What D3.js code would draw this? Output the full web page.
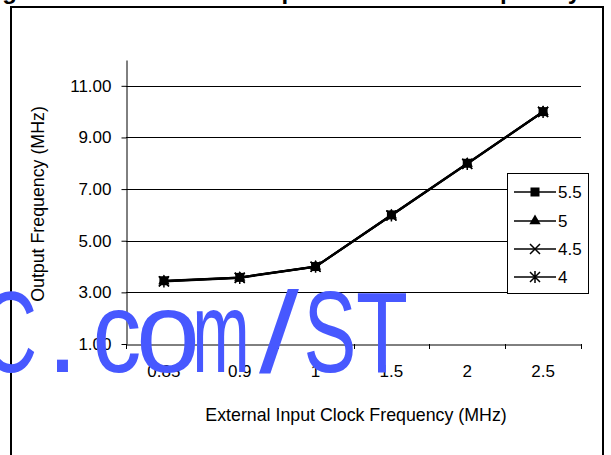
<!DOCTYPE html>
<html>
<head>
<meta charset="utf-8">
<script src="https://cdn.jsdelivr.net/npm/d3@7"></script>
<style>
html,body{margin:0;padding:0;background:#fff;}
svg{display:block;font-family:"Liberation Sans",Arial,sans-serif;}
</style>
</head>
<body>
<svg id="chart" width="611" height="455"></svg>
<script>
const categories = ["0.85", "0.9", "1", "1.5", "2", "2.5"];
const seriesNames = ["5.5", "5", "4.5", "4"];
const values55 = [3.45, 3.58, 4.0, 6.0, 8.0, 10.0];
const values5  = [3.44, 3.58, 4.0, 5.99, 7.99, 10.0];
const values45 = [3.43, 3.57, 3.99, 5.98, 7.98, 9.99];
const values4  = [3.42, 3.56, 3.99, 5.98, 7.97, 9.99];
const yTicks = [1, 3, 5, 7, 9, 11];
const titleText = "Figure 11. Oscillator Output vs. Clock Frequency";
const xTitle = "External Input Clock Frequency (MHz)";
const yTitle = "Output Frequency (MHz)";
const watermark = ["C", ".", "c", "o", "m", "/", "S", "T"];
const watermarkX = [9, 62.5, 117, 168, 221, 279, 330, 382];
const watermarkScale = [0.68, 1, 0.85, 1, 0.6, 1.25, 0.69, 0.74];

const series = [
  {name: seriesNames[0], values: values55, marker: "square"},
  {name: seriesNames[1], values: values5, marker: "triangle"},
  {name: seriesNames[2], values: values45, marker: "x"},
  {name: seriesNames[3], values: values4, marker: "star"}
];

const svg = d3.select("#chart");
const plot = {left: 126, right: 581, top: 60, bottom: 344};

const x = d3.scaleBand().domain(categories).range([plot.left, plot.right]);
const y = d3.scaleLinear().domain([1, 12]).range([plot.bottom, plot.top]);

// cut-off title
svg.append("text")
  .attr("x", -21).attr("y", -1)
  .attr("font-size", 24).attr("font-weight", "bold")
  .attr("textLength", 602).attr("lengthAdjust", "spacing")
  .text(titleText);

// outer frame
svg.append("rect")
  .attr("x", 11).attr("y", 7).attr("width", 592).attr("height", 460)
  .attr("fill", "none").attr("stroke", "#000").attr("stroke-width", 2);

// gridlines
svg.append("g").selectAll("line").data(yTicks.filter(d => d > 1)).join("line")
  .attr("x1", plot.left).attr("x2", plot.right)
  .attr("y1", d => Math.round(y(d)) + 0.5).attr("y2", d => Math.round(y(d)) + 0.5)
  .attr("stroke", "#000").attr("stroke-width", 1);

// y axis
const yAxis = svg.append("g")
  .attr("transform", `translate(${plot.left + 0.5},0)`)
  .call(d3.axisLeft(y).tickValues(yTicks).tickFormat(d3.format(".2f")).tickSize(5).tickPadding(10).tickSizeOuter(0));
yAxis.select(".domain").attr("stroke", "#000");
yAxis.selectAll("text").attr("font-size", 17).attr("fill", "#000").attr("font-family", "Liberation Sans, Arial, sans-serif");
yAxis.selectAll(".tick line").attr("stroke", "#000");

// x axis
const xAxis = svg.append("g")
  .attr("transform", `translate(0,${plot.bottom + 0.5})`)
  .call(d3.axisBottom(x).tickSize(0).tickPadding(20));
xAxis.select(".domain").attr("stroke", "#000");
xAxis.selectAll("text").attr("font-size", 17).attr("fill", "#000").attr("font-family", "Liberation Sans, Arial, sans-serif");
// category boundary ticks
const bounds = categories.map(c => x(c)).concat([x(categories[categories.length - 1]) + x.bandwidth()]);
svg.append("g").selectAll("line").data(bounds).join("line")
  .attr("x1", d => Math.round(d) + 0.5).attr("x2", d => Math.round(d) + 0.5)
  .attr("y1", plot.bottom).attr("y2", plot.bottom + 5)
  .attr("stroke", "#000");

// axis titles
svg.append("text")
  .attr("x", 356).attr("y", 421)
  .attr("text-anchor", "middle").attr("font-size", 17.8)
  .text(xTitle);
svg.append("text")
  .attr("transform", "translate(44,204) rotate(-90)")
  .attr("text-anchor", "middle").attr("font-size", 17.8)
  .text(yTitle);

function drawMarker(g, type) {
  if (type === "square") {
    g.append("rect").attr("x", -4.5).attr("y", -4.5).attr("width", 9).attr("height", 9).attr("fill", "#000");
  } else if (type === "triangle") {
    g.append("path").attr("d", d3.symbol(d3.symbolTriangle, 55)()).attr("fill", "#000");
  } else if (type === "x") {
    g.append("path").attr("d", "M-5,-5L5,5M-5,5L5,-5").attr("stroke", "#000").attr("stroke-width", 1.5).attr("fill", "none");
  } else if (type === "star") {
    g.append("path").attr("d", "M-5,-5L5,5M-5,5L5,-5M0,-6L0,6").attr("stroke", "#000").attr("stroke-width", 1.5).attr("fill", "none");
  }
}

const line = d3.line().x((d, i) => x(categories[i]) + x.bandwidth() / 2).y(d => y(d));
series.forEach(s => {
  svg.append("path").datum(s.values)
    .attr("d", line).attr("fill", "none").attr("stroke", "#000").attr("stroke-width", 2);
});
series.forEach(s => {
  s.values.forEach((v, i) => {
    const g = svg.append("g").attr("transform", `translate(${x(categories[i]) + x.bandwidth() / 2},${y(v)})`);
    drawMarker(g, s.marker);
  });
});

// legend
const legend = svg.append("g");
legend.append("rect")
  .attr("x", 507.5).attr("y", 173.5).attr("width", 81).attr("height", 120)
  .attr("fill", "#fff").attr("stroke", "#000").attr("stroke-width", 1);
const legendY = [192, 221, 249, 277];
series.forEach((s, i) => {
  const ly = legendY[i];
  legend.append("line").attr("x1", 514).attr("x2", 556).attr("y1", ly).attr("y2", ly)
    .attr("stroke", "#000").attr("stroke-width", 1.5);
  const g = legend.append("g").attr("transform", `translate(535,${ly})`);
  drawMarker(g, s.marker);
  legend.append("text").attr("x", 558).attr("y", ly + 6).attr("font-size", 17).text(s.name);
});

// watermark
const wm = svg.append("g").attr("fill", "#4758ff");
watermark.forEach((ch, i) => {
  wm.append("text")
    .attr("transform", `translate(${watermarkX[i]},372) scale(${watermarkScale[i]},1)`)
    .attr("text-anchor", "middle").attr("font-size", 115)
    .text(ch);
});
</script>
</body>
</html>
